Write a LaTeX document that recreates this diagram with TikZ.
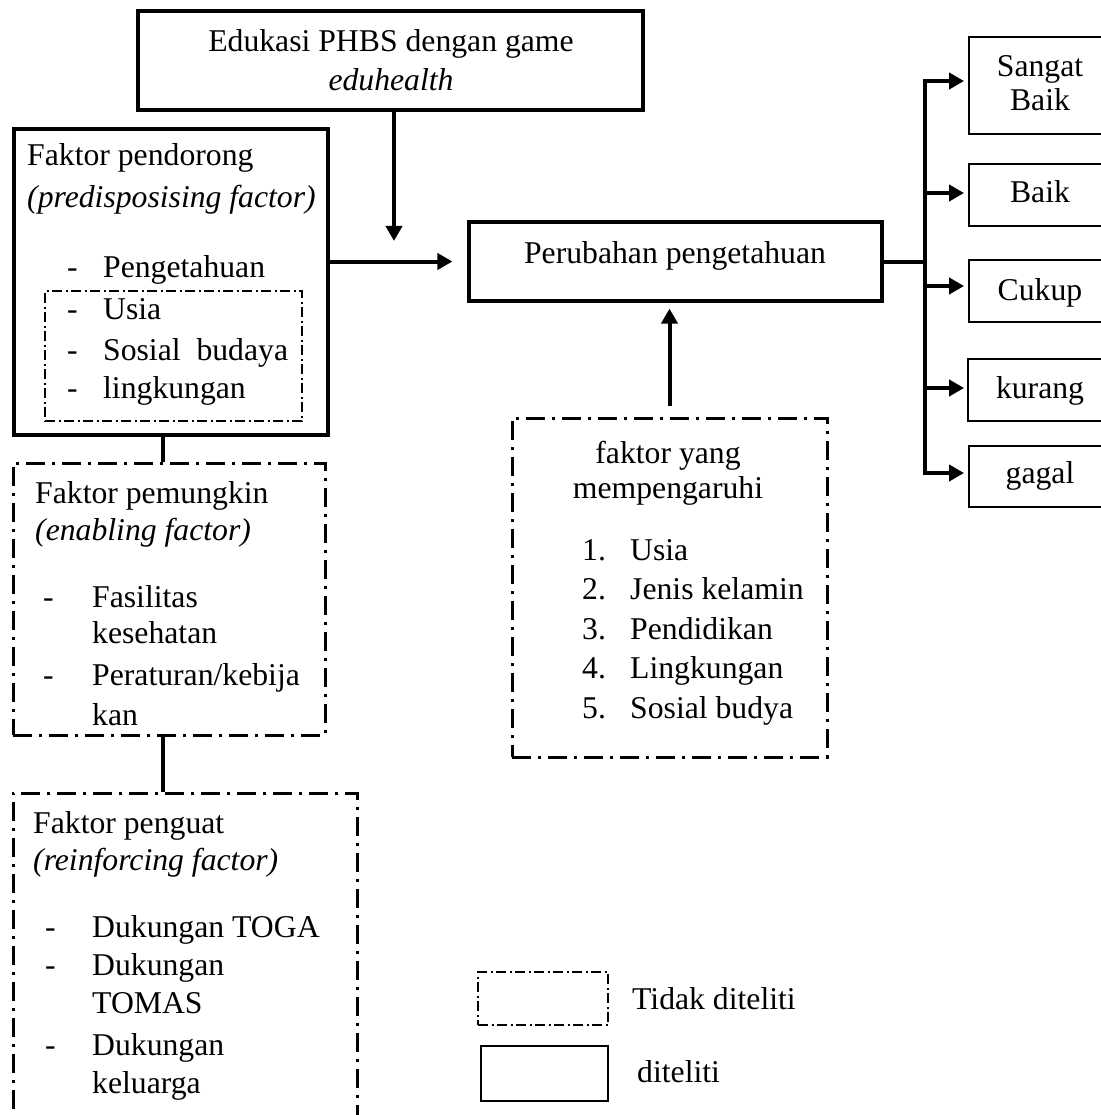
\documentclass[tikz,border=0pt]{standalone}
\usepackage{fontspec}
\setmainfont{Liberation Serif}
\usetikzlibrary{arrows.meta}
\newcommand\mybox[6]{\node[#6, minimum width={#4-#2}, minimum height={#5-#3}] (#1) at ({(#2+#4)/2},{(#3+#5)/2}) {};}
\begin{document}
\begin{tikzpicture}[x=1pt,y=-1pt,
  every node/.style={font=\fontsize{31.7}{38}\selectfont},
  txt/.style={anchor=base west, inner sep=0pt},
  ctxt/.style={anchor=base, inner sep=0pt},
  solidbox/.style={draw, line width=3.2pt, inner sep=0pt},
  thinbox/.style={draw, line width=1.8pt, inner sep=0pt},
  ddbox/.style={draw, line width=3pt, dash pattern=on 19pt off 7pt on 3pt off 7pt, inner sep=0pt},
  ddthin/.style={draw, line width=1.5pt, dash pattern=on 10pt off 3.5pt on 2pt off 3.5pt, inner sep=0pt},
  arr/.style={line width=4pt, -{Triangle[length=15pt,width=16pt]}},
  conn/.style={line width=4pt},
]
\useasboundingbox (0,0) rectangle (1100,1115);

% boxes
\mybox{edu}{138}{11}{643}{110}{solidbox}
\mybox{pend}{14}{129}{328}{435}{solidbox}
\mybox{inner}{45}{291}{302}{421}{ddthin}
\mybox{pemu}{13}{463}{325}{735}{ddbox}
\mybox{peng}{13}{793}{357}{1140}{ddbox}
\mybox{peru}{469}{222}{882}{301}{solidbox}
\mybox{fak}{512}{418}{827}{757}{ddbox}
\mybox{sb}{969}{37}{1112}{134}{thinbox}
\mybox{baik}{969}{164}{1112}{226}{thinbox}
\mybox{cukup}{969}{260}{1112}{322}{thinbox}
\mybox{kurang}{968}{359}{1112}{421}{thinbox}
\mybox{gagal}{969}{446}{1112}{507}{thinbox}
\mybox{legdd}{478}{972}{608}{1025}{ddthin}
\mybox{legsolid}{481}{1046}{608}{1101}{thinbox}

% texts: edukasi
\node[ctxt] (edu1) at (391,52) {Edukasi PHBS dengan game};
\node[ctxt] (edu2) at (391,91) {\itshape eduhealth};
% pendorong
\node[txt] (pd1) at (27,166) {Faktor pendorong};
\node[txt] (pd2) at (27,208) {\itshape (predisposising factor)};
\node[txt] (pd3) at (67,277) {\makebox[36pt][l]{-}Pengetahuan};
\node[txt] (pd4) at (67,319) {\makebox[36pt][l]{-}Usia};
\node[txt] (pd5) at (67,360) {\makebox[36pt][l]{-}Sosial\ \ budaya};
\node[txt] (pd6) at (67,398) {\makebox[36pt][l]{-}lingkungan};
% pemungkin
\node[txt] (pm1) at (35,503) {Faktor pemungkin};
\node[txt] (pm2) at (35,540) {\itshape (enabling factor)};
\node[txt] (pm3) at (43,607) {\makebox[49pt][l]{-}Fasilitas};
\node[txt] (pm4) at (92,643) {kesehatan};
\node[txt] (pm5) at (43,685) {\makebox[49pt][l]{-}Peraturan/kebija};
\node[txt] (pm6) at (92,725) {kan};
% penguat
\node[txt] (pg1) at (33,833) {Faktor penguat};
\node[txt] (pg2) at (33,870) {\itshape (reinforcing factor)};
\node[txt] (pg3) at (45,937) {\makebox[47pt][l]{-}Dukungan TOGA};
\node[txt] (pg4) at (45,975) {\makebox[47pt][l]{-}Dukungan};
\node[txt] (pg5) at (92,1013) {TOMAS};
\node[txt] (pg6) at (45,1055) {\makebox[47pt][l]{-}Dukungan};
\node[txt] (pg7) at (92,1093) {keluarga};
% perubahan
\node[ctxt] (pr1) at (675,263) {Perubahan pengetahuan};
% faktor yang mempengaruhi
\node[ctxt] (fk1) at (668,463) {faktor yang};
\node[ctxt] (fk2) at (668,498) {mempengaruhi};
\node[txt] (fk3) at (582,560) {\makebox[48pt][l]{1.}Usia};
\node[txt] (fk4) at (582,599) {\makebox[48pt][l]{2.}Jenis kelamin};
\node[txt] (fk5) at (582,639) {\makebox[48pt][l]{3.}Pendidikan};
\node[txt] (fk6) at (582,678) {\makebox[48pt][l]{4.}Lingkungan};
\node[txt] (fk7) at (582,718) {\makebox[48pt][l]{5.}Sosial budya};
% results
\node[ctxt] (r1a) at (1040,77) {Sangat};
\node[ctxt] (r1b) at (1040,111) {Baik};
\node[ctxt] (r2) at (1040,203) {Baik};
\node[ctxt] (r3) at (1040,300) {Cukup};
\node[ctxt] (r4) at (1040,398) {kurang};
\node[ctxt] (r5) at (1040,483) {gagal};
% legend
\node[txt] (lg1) at (632,1009) {Tidak diteliti};
\node[txt] (lg2) at (637,1082) {diteliti};

% connectors
\coordinate (edutip) at (394,241);
\draw[arr] (edu.south -| edutip) -- (edutip);
\draw[arr] (pend.east |- peru.west) -- ([xshift=-15pt]peru.west);
\draw[arr] ([yshift=11pt]fak.north) -- ([yshift=-6pt]fak.north |- peru.south);

\coordinate (colx) at (163,0);
\draw[conn] (pend.south -| colx) -- (pemu.north -| colx);
\draw[conn] (pemu.south -| colx) -- (peng.north -| colx);

\coordinate (trunk) at (925,0);
\coordinate (bsb) at ([xshift=-4pt,yshift=4.5pt]sb.west);
\coordinate (bbaik) at ([xshift=-4pt,yshift=2pt]baik.west);
\coordinate (bcukup) at ([xshift=-4pt,yshift=5pt]cukup.west);
\coordinate (bkurang) at ([xshift=-3pt,yshift=2pt]kurang.west);
\coordinate (bgagal) at ([xshift=-4pt,yshift=3.5pt]gagal.west);
\draw[conn] (peru.east) -- (peru.east -| trunk);
\draw[conn, line cap=rect] (bsb -| trunk) -- (bgagal -| trunk);
\draw[arr] (bsb -| trunk) -- (bsb);
\draw[arr] (bbaik -| trunk) -- (bbaik);
\draw[arr] (bcukup -| trunk) -- (bcukup);
\draw[arr] (bkurang -| trunk) -- (bkurang);
\draw[arr] (bgagal -| trunk) -- (bgagal);
\end{tikzpicture}
\end{document}
